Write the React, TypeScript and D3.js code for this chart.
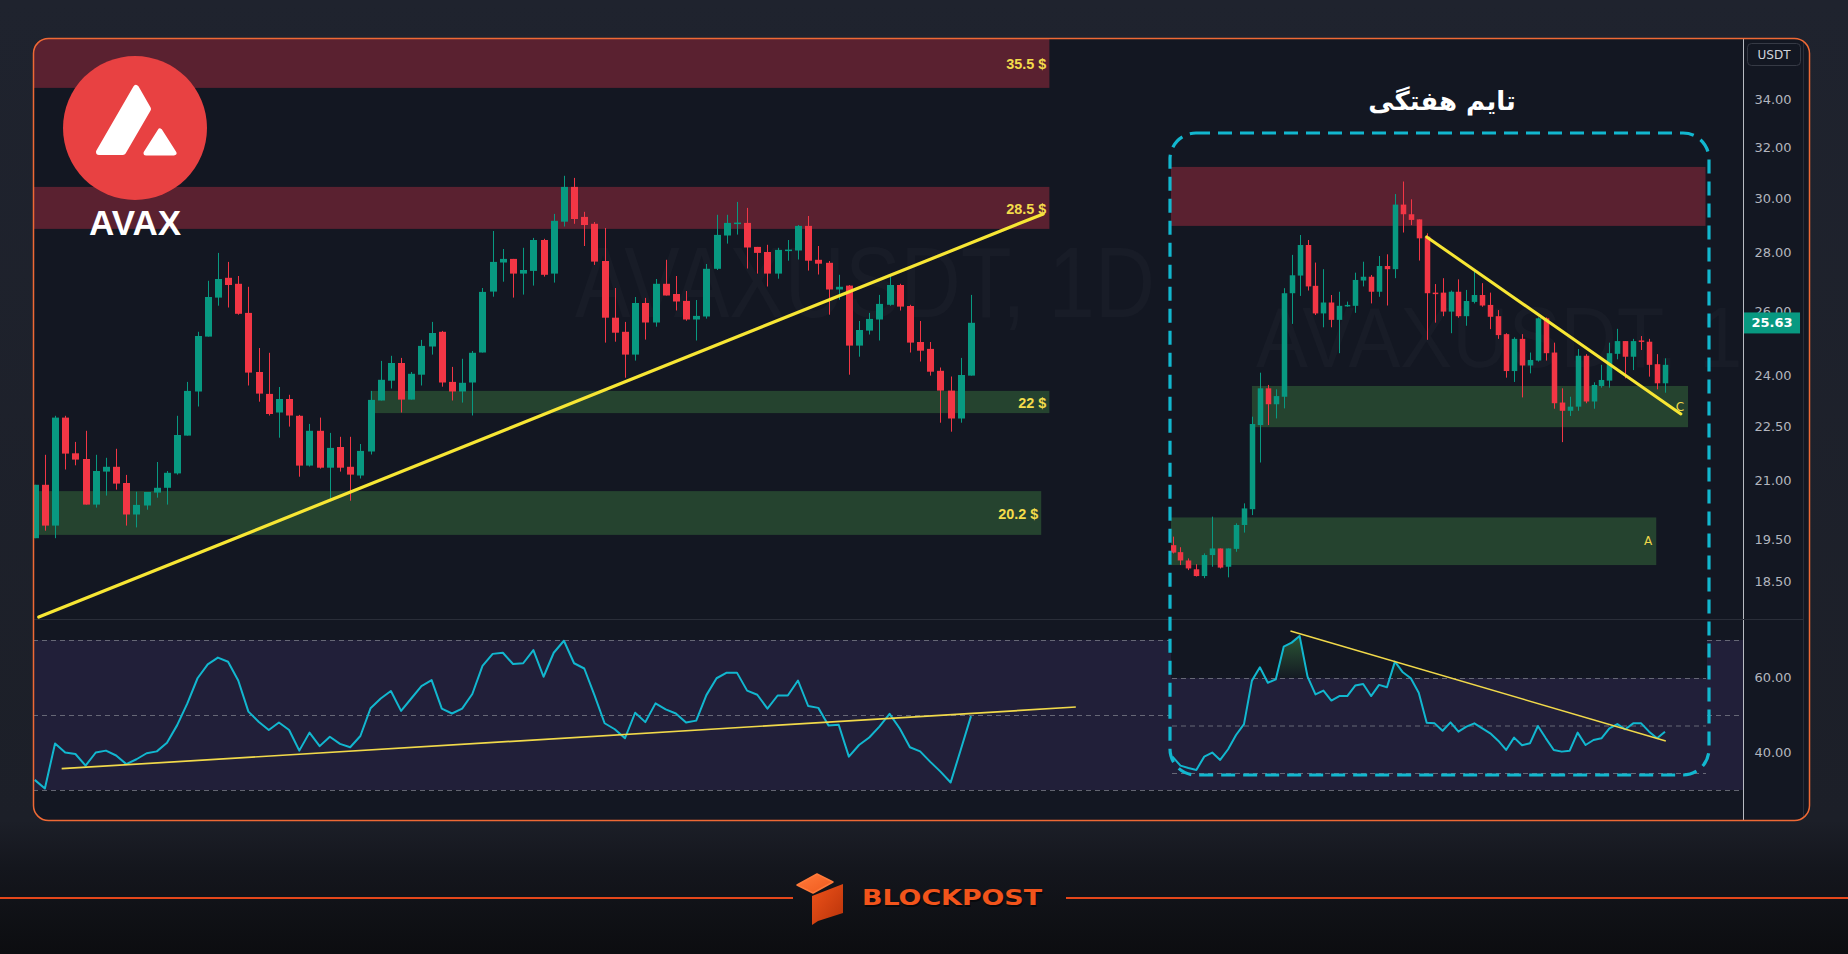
import React from 'react';
import * as d3 from 'd3';

// ---- daily chart (left), AVAX/USDT 1D ----
const dailyOpen = [17.46, 19.24, 17.88, 21.48, 20.29, 20.1, 18.58, 19.68, 19.84, 19.3,
  18.25, 18.55, 18.98, 19.14, 19.62, 20.88, 22.35, 24.18, 25.48, 26.14,
  25.94, 24.97, 23.0, 22.27, 21.65, 22.1, 21.54, 19.88, 21.04, 19.81,
  20.5, 19.84, 19.55, 20.35, 22.05, 22.71, 23.3, 22.08, 22.91, 23.85,
  24.34, 22.67, 22.35, 22.65, 23.65, 25.68, 26.65, 26.77, 26.28, 26.37,
  27.4, 26.28, 28.01, 29.17, 28.17, 27.94, 26.7, 24.81, 24.34, 23.58,
  25.3, 24.65, 25.94, 25.6, 25.37, 24.75, 24.85, 26.44, 27.55, 27.96,
  27.97, 27.17, 27.0, 26.28, 27.05, 27.05, 27.87, 26.74, 26.64, 25.75,
  25.88, 23.88, 24.38, 24.75, 25.24, 25.9, 25.2, 24.0, 23.77, 23.04,
  22.38, 21.45, 22.88];
const dailyHigh = [19.24, 20.24, 21.54, 21.54, 20.67, 21.04, 20.24, 20.14, 20.44, 19.57,
  19.01, 19.0, 20.0, 19.7, 21.54, 22.67, 24.34, 26.04, 26.97, 26.67,
  26.2, 25.84, 23.8, 23.64, 22.5, 22.24, 21.57, 21.27, 21.48, 20.97,
  20.84, 20.84, 20.6, 22.37, 23.37, 23.54, 23.47, 23.0, 24.07, 24.67,
  24.37, 23.17, 23.44, 23.7, 25.8, 27.7, 27.1, 26.77, 27.14, 27.47,
  27.44, 28.27, 29.54, 29.47, 28.34, 28.0, 27.8, 25.8, 24.67, 25.5,
  25.47, 26.1, 26.74, 26.2, 25.7, 25.4, 26.6, 28.24, 28.24, 28.67,
  28.47, 27.17, 27.24, 27.14, 27.4, 27.9, 28.2, 27.2, 26.7, 26.24,
  25.9, 24.7, 24.97, 25.57, 26.18, 25.94, 25.24, 24.7, 24.0, 23.15,
  22.85, 23.47, 25.57];
const dailyLow = [17.46, 17.71, 17.46, 19.75, 19.89, 18.58, 18.48, 18.88, 19.08, 17.88,
  17.82, 18.41, 18.81, 18.58, 19.58, 20.88, 21.85, 24.18, 25.21, 25.15,
  24.91, 22.55, 22.01, 21.55, 20.81, 21.18, 19.51, 19.85, 19.78, 18.71,
  19.68, 18.71, 19.45, 20.25, 22.05, 22.45, 21.65, 22.08, 22.55, 23.58,
  22.51, 22.05, 21.98, 21.55, 23.65, 25.51, 26.01, 25.48, 25.58, 25.88,
  26.18, 25.98, 27.85, 27.94, 27.2, 26.57, 23.98, 24.01, 22.81, 23.38,
  24.08, 24.51, 25.55, 25.05, 24.71, 24.05, 24.78, 26.4, 27.28, 27.58,
  26.45, 26.28, 25.85, 26.11, 26.71, 26.75, 26.38, 26.25, 24.91, 25.41,
  22.91, 23.51, 24.25, 24.05, 25.21, 25.05, 23.65, 23.35, 22.88, 21.31,
  21.01, 21.31, 22.88];
const dailyClose = [19.24, 17.88, 21.48, 20.28, 20.08, 18.58, 19.7, 19.84, 19.28, 18.25,
  18.57, 19.0, 19.14, 19.64, 20.9, 22.37, 24.2, 25.5, 26.1, 25.9,
  24.94, 22.98, 22.28, 21.6, 22.1, 21.55, 19.88, 21.04, 19.81, 20.47,
  19.81, 19.58, 20.37, 22.07, 22.74, 23.3, 22.08, 22.94, 23.87, 24.3,
  22.65, 22.35, 22.64, 23.64, 25.67, 26.67, 26.77, 26.28, 26.4, 27.4,
  26.24, 28.04, 29.17, 28.1, 27.9, 26.68, 24.81, 24.31, 23.58, 25.3,
  24.65, 25.94, 25.55, 25.35, 24.75, 24.87, 26.44, 27.57, 27.97, 27.98,
  27.15, 26.97, 26.28, 27.07, 27.08, 27.87, 26.71, 26.61, 25.75, 25.84,
  23.88, 24.4, 24.77, 25.27, 25.9, 25.18, 23.98, 23.71, 23.01, 22.38,
  21.45, 22.9, 24.64];
const dailyRsi = [32.7, 30.4, 42.4, 40.0, 39.6, 36.5, 40.0, 40.5, 39.2, 36.9,
  38.2, 39.8, 40.3, 42.6, 47.3, 53.1, 59.8, 63.5, 65.3, 64.2,
  59.2, 50.9, 48.2, 46.0, 48.0, 46.0, 40.5, 45.3, 41.7, 44.2,
  42.3, 41.4, 44.4, 51.8, 54.4, 56.4, 51.1, 54.4, 57.7, 59.3,
  51.7, 50.4, 51.7, 55.6, 63.1, 66.3, 66.6, 63.6, 63.8, 67.3,
  60.2, 66.6, 69.8, 63.8, 62.4, 55.3, 47.8, 46.2, 43.8, 50.6,
  48.1, 53.1, 51.5, 50.4, 48.0, 48.5, 55.3, 59.8, 61.3, 61.3,
  56.5, 55.4, 51.7, 55.2, 55.2, 59.2, 52.4, 51.9, 47.2, 47.4,
  38.9, 42.0, 44.0, 46.9, 50.3, 46.4, 41.4, 40.3, 37.5, 34.9,
  32.0, 40.8, 49.7];

// ---- weekly chart (inset), AVAX/USDT 1W ----
const weeklyOpen = [19.36, 19.19, 18.99, 18.78, 18.62, 19.12, 19.28, 18.84, 19.27, 19.86,
  20.26, 22.53, 23.6, 23.13, 23.35, 26.61, 27.21, 28.28, 26.86, 25.94,
  26.3, 25.73, 26.19, 26.19, 27.04, 27.17, 26.66, 27.54, 27.43, 29.76,
  29.4, 29.21, 28.58, 26.63, 26.63, 26.0, 26.66, 25.85, 26.32, 26.55,
  26.22, 25.85, 25.27, 24.12, 25.12, 24.29, 24.44, 25.78, 24.69, 23.18,
  22.94, 23.06, 24.59, 23.21, 23.67, 23.83, 24.65, 25.05, 24.56, 25.07,
  25.03, 24.33, 23.75];
const weeklyHigh = [19.57, 19.31, 19.04, 18.9, 19.16, 20.07, 19.28, 19.28, 19.9, 20.41,
  22.77, 24.07, 23.7, 23.57, 26.78, 27.93, 28.64, 28.46, 27.66, 27.43,
  26.55, 26.66, 26.33, 27.31, 27.69, 27.23, 27.89, 27.95, 30.16, 30.64,
  29.96, 29.21, 28.7, 26.92, 27.12, 26.7, 27.08, 26.72, 27.4, 26.95,
  26.63, 26.05, 25.3, 25.17, 25.27, 24.69, 25.81, 25.81, 25.0, 23.6,
  23.35, 24.8, 24.64, 23.78, 24.31, 25.0, 25.44, 25.05, 25.12, 25.21,
  25.12, 24.64, 24.51];
const weeklyLow = [19.16, 18.88, 18.76, 18.61, 18.57, 18.84, 18.8, 18.59, 19.2, 19.67,
  20.11, 21.49, 22.53, 22.72, 23.01, 25.6, 26.52, 26.7, 25.89, 25.49,
  25.49, 24.67, 26.16, 25.96, 26.84, 26.27, 26.49, 26.2, 27.12, 28.73,
  29.0, 27.73, 25.09, 25.64, 25.85, 25.3, 25.8, 25.54, 26.27, 26.16,
  25.43, 25.12, 23.92, 23.79, 23.33, 24.05, 24.41, 24.44, 23.0, 22.05,
  22.79, 22.94, 23.16, 23.0, 23.62, 23.62, 24.48, 23.9, 24.15, 24.77,
  23.95, 23.57, 23.47];
const weeklyClose = [19.18, 18.99, 18.8, 18.62, 19.12, 19.28, 18.82, 19.28, 19.86, 20.28,
  22.56, 23.6, 23.13, 23.37, 26.61, 27.22, 28.28, 26.84, 25.94, 26.3,
  25.73, 26.19, 26.22, 27.06, 27.17, 26.66, 27.54, 27.43, 29.76, 29.4,
  29.19, 28.52, 26.61, 26.59, 26.0, 26.66, 25.85, 26.35, 26.55, 26.2,
  25.83, 25.24, 24.12, 25.12, 24.29, 24.46, 25.78, 24.67, 23.16, 22.94,
  23.06, 24.59, 23.21, 23.7, 23.85, 24.67, 25.05, 24.56, 25.05, 25.03,
  24.31, 23.75, 24.31];
const weeklyRsi = [36.9, 33.1, 32.1, 31.3, 36.9, 38.6, 35.5, 40.0, 46.0, 50.6,
  68.9, 74.5, 68.0, 69.4, 83.2, 84.9, 87.7, 70.6, 63.1, 64.7,
  60.5, 62.4, 62.4, 66.8, 67.5, 62.4, 67.1, 66.1, 76.9, 72.4,
  69.9, 63.8, 51.2, 50.9, 47.8, 51.3, 47.4, 49.5, 50.9, 48.8,
  46.7, 43.6, 39.7, 44.9, 41.7, 42.5, 49.8, 44.6, 39.7, 39.0,
  39.4, 47.0, 41.8, 43.9, 44.6, 48.8, 50.6, 48.4, 50.9, 50.9,
  47.4, 44.6, 47.4];

// zones: price bounds + bar-index extent
const dailyZones = [
  { lo: 32.47, hi: 34.13, from: -0.3, to: 99.7, kind: 'supply', label: '35.5 $' },
  { lo: 27.77, hi: 29.17, from: -0.3, to: 99.7, kind: 'supply', label: '28.5 $' },
  { lo: 21.63, hi: 22.37, from: 33, to: 99.7, kind: 'demand', label: '22 $' },
  { lo: 17.57, hi: 19.03, from: -0.3, to: 98.9, kind: 'demand', label: '20.2 $' },
];
const weeklyZones = [
  { lo: 28.97, hi: 31.21, from: -0.3, to: 67.1, kind: 'supply', label: '' },
  { lo: 22.47, hi: 23.67, from: 10, to: 64.9, kind: 'demand', label: 'C' },
  { lo: 18.88, hi: 20.05, from: -0.3, to: 60.9, kind: 'demand', label: 'A' },
];

// trend lines [barIndex, value]
const dailyTrend = [[0.4, 14.83], [99.1, 28.27]];
const weeklyTrend = [[32, 28.57], [64, 22.85]];
const dailyRsiTrend = [[2.65, 35.68], [102.3, 52.13]];
const weeklyRsiTrend = [[14.85, 89.79], [62.1, 43.47]];

const priceTicks = [34, 32, 30, 28, 26, 24, 22.5, 21, 19.5, 18.5];
const rsiTicks = [60, 40];
const rsiLevels = [70, 50, 30];
const lastPrice = 25.63;

const GREEN = '#089981';
const RED = '#f23645';
const BG = '#131722';
const SUPPLY = '#5a2130';
const DEMAND = '#25432f';
const YELLOW = '#f7e634';
const CYAN = '#12b7cf';
const BAND = '#211f39';

function Candles({ open, high, low, close, x, y, bw }) {
  return (
    <g>
      {open.map((o, i) => {
        const c = close[i];
        const col = c >= o ? GREEN : RED;
        const cx = Math.round(x(i)) + 0.5;
        const top = y(Math.max(o, c));
        const bot = y(Math.min(o, c));
        return (
          <g key={i}>
            <line x1={cx} x2={cx} y1={y(high[i])} y2={y(low[i])} stroke={col} strokeWidth={1} />
            <rect x={cx - bw / 2} y={top} width={bw} height={Math.max(1.5, bot - top)} fill={col} />
          </g>
        );
      })}
    </g>
  );
}

export default function App() {
  const W = 1848;
  const H = 954;
  // scales
  const xD = d3.scaleLinear().domain([0, dailyOpen.length - 1]).range([34.7, 971]);
  const yD = d3.scaleLinear().domain([28.5, 22]).range([207, 402]);
  const xW = d3.scaleLinear().domain([0, weeklyOpen.length - 1]).range([1172.5, 1665]);
  const yW = d3.scaleLog().domain([24, 34]).range([375, 99.1]);
  const yRD = d3.scaleLinear().domain([70, 30]).range([640, 790]);
  const yRW = d3.scaleLinear().domain([70, 30]).range([678, 773]);

  const rsiLineD = d3.line<number>().x((d, i) => xD(i)).y((d) => yRD(d));
  const rsiLineW = d3.line<number>().x((d, i) => xW(i)).y((d) => yRW(d));
  const rsiAreaW = d3.area<number>().x((d, i) => xW(i)).y0(yRW(70)).y1((d) => yRW(d));

  const frame = { x: 33, y: 38, w: 1776, h: 782 };
  const axisX = 1743;
  const paneDiv = 619;
  const inset = { x: 1170, y: 133, w: 539, h: 642 };

  const wm = { fill: '#ffffff', fillOpacity: 0.022, fontFamily: 'Liberation Sans, Arial, sans-serif' };

  return (
    <>
      <style>{'body{margin:0;overflow:hidden;background:#1e222c}'}</style>
      <svg width={W} height={H} style={{ display: 'block' }}>
        <defs>
          <linearGradient id="page" x1="0" y1="0" x2="0" y2="1">
            <stop offset="0" stopColor="#1f232e" />
            <stop offset="0.86" stopColor="#1c1f28" />
            <stop offset="0.91" stopColor="#14161d" />
            <stop offset="1" stopColor="#0c0d10" />
          </linearGradient>
          <linearGradient id="ob" gradientUnits="userSpaceOnUse" x1="0" y1="632" x2="0" y2="678">
            <stop offset="0" stopColor="#4caf50" stopOpacity="0.45" />
            <stop offset="1" stopColor="#4caf50" stopOpacity="0.02" />
          </linearGradient>
          <linearGradient id="cubeTop" x1="0" y1="0" x2="1" y2="1">
            <stop offset="0" stopColor="#ff7a3a" />
            <stop offset="1" stopColor="#ef5a1e" />
          </linearGradient>
          <linearGradient id="cubeFace" x1="0" y1="0" x2="1" y2="1">
            <stop offset="0" stopColor="#f0531a" />
            <stop offset="1" stopColor="#b8330a" />
          </linearGradient>
          <clipPath id="leftClip">
            <rect x={frame.x} y={frame.y} width={1160 - frame.x} height={paneDiv - frame.y} />
          </clipPath>
          <clipPath id="insetClip">
            <rect x={1171} y={frame.y} width={axisX - 1171} height={paneDiv - frame.y} />
          </clipPath>
          <clipPath id="obClip">
            <rect x={1171} y={600} width={540} height={yRW(70) - 600} />
          </clipPath>
          <clipPath id="frameClip">
            <rect x={frame.x} y={frame.y} width={frame.w} height={frame.h} rx={15} />
          </clipPath>
        </defs>

        <rect width={W} height={H} fill="url(#page)" />

        {/* frame background */}
        <rect x={frame.x} y={frame.y} width={frame.w} height={frame.h} rx={15} fill={BG} />

        <g clipPath="url(#frameClip)">
          {/* ---------- daily price pane ---------- */}
          <g clipPath="url(#leftClip)">
            {dailyZones.map((z, i) => (
              <rect key={i} x={xD(z.from)} y={yD(z.hi)} width={xD(z.to) - xD(z.from)}
                height={yD(z.lo) - yD(z.hi)} fill={z.kind === 'supply' ? SUPPLY : DEMAND} />
            ))}
            <text x={575} y={317} fontSize={100} textLength={580} lengthAdjust="spacingAndGlyphs" {...wm}>AVAXUSDT, 1D</text>
            <text x={693} y={398} fontSize={44} textLength={347} lengthAdjust="spacingAndGlyphs" {...wm}>AVAX / TetherUS</text>
            <Candles open={dailyOpen} high={dailyHigh} low={dailyLow} close={dailyClose} x={xD} y={yD} bw={7} />
            <line x1={xD(dailyTrend[0][0])} y1={yD(dailyTrend[0][1])} x2={xD(dailyTrend[1][0])} y2={yD(dailyTrend[1][1])}
              stroke={YELLOW} strokeWidth={3.2} strokeLinecap="round" />
            {dailyZones.map((z, i) => (
              <text key={i} transform={`translate(${xD(z.to) - 3},${(yD(z.hi) + yD(z.lo)) / 2}) scale(0.93,1)`}
                textAnchor="end" dominantBaseline="central" fontSize={15.5} fontWeight="bold"
                fontFamily="Liberation Sans, Arial, sans-serif" fill="#f3dc4b">{z.label}</text>
            ))}
          </g>

          {/* ---------- weekly inset price pane ---------- */}
          <g clipPath="url(#insetClip)">
            {weeklyZones.map((z, i) => (
              <rect key={i} x={xW(z.from)} y={yW(z.hi)} width={xW(z.to) - xW(z.from)}
                height={yW(z.lo) - yW(z.hi)} fill={z.kind === 'supply' ? SUPPLY : DEMAND} />
            ))}
            <text x={1256} y={367} fontSize={86} textLength={560} lengthAdjust="spacingAndGlyphs" {...wm}>AVAXUSDT, 1W</text>
            <text x={1363} y={437} fontSize={40} textLength={286} lengthAdjust="spacingAndGlyphs" {...wm}>AVAX / TetherUS</text>
            <Candles open={weeklyOpen} high={weeklyHigh} low={weeklyLow} close={weeklyClose} x={xW} y={yW} bw={5.5} />
            <line x1={xW(weeklyTrend[0][0])} y1={yW(weeklyTrend[0][1])} x2={xW(weeklyTrend[1][0])} y2={yW(weeklyTrend[1][1])}
              stroke={YELLOW} strokeWidth={3} strokeLinecap="round" />
            {weeklyZones.filter((z) => z.label).map((z, i) => (
              <text key={i} x={xW(z.to) - 4} y={(yW(z.hi) + yW(z.lo)) / 2} textAnchor="end" dominantBaseline="central"
                fontSize={12} fontFamily="DejaVu Sans, sans-serif" fill="#eed64a">{z.label}</text>
            ))}
          </g>

          {/* ---------- RSI pane ---------- */}
          <rect x={frame.x} y={yRD(70)} width={axisX - frame.x} height={yRD(30) - yRD(70)} fill={BAND} />
          {rsiLevels.map((v) => (
            <line key={v} x1={frame.x} x2={axisX} y1={yRD(v) + 0.5} y2={yRD(v) + 0.5}
              stroke="#7d808b" strokeOpacity={0.75} strokeDasharray="5 4" />
          ))}
          <path d={rsiLineD(dailyRsi)} fill="none" stroke={CYAN} strokeWidth={2} strokeLinejoin="round" />
          <line x1={xD(dailyRsiTrend[0][0])} y1={yRD(dailyRsiTrend[0][1])} x2={xD(dailyRsiTrend[1][0])} y2={yRD(dailyRsiTrend[1][1])}
            stroke="#f1d94a" strokeWidth={1.7} />

          {/* inset RSI */}
          <rect x={1171} y={paneDiv} width={1707 - 1171} height={yRW(70) - paneDiv} fill={BG} />
          <rect x={1171} y={yRW(70)} width={1707 - 1171} height={786 - yRW(70)} fill={BAND} />
          {rsiLevels.map((v) => (
            <line key={v} x1={1172} x2={1706} y1={yRW(v) + 0.5} y2={yRW(v) + 0.5}
              stroke="#7d808b" strokeOpacity={0.75} strokeDasharray="5 4" />
          ))}
          <path d={rsiAreaW(weeklyRsi)} fill="url(#ob)" clipPath="url(#obClip)" />
          <path d={rsiLineW(weeklyRsi)} fill="none" stroke={CYAN} strokeWidth={2} strokeLinejoin="round" />
          <line x1={xW(weeklyRsiTrend[0][0])} y1={yRW(weeklyRsiTrend[0][1])} x2={xW(weeklyRsiTrend[1][0])} y2={yRW(weeklyRsiTrend[1][1])}
            stroke="#f1d94a" strokeWidth={1.5} />

          {/* pane divider */}
          <line x1={frame.x} x2={frame.x + frame.w} y1={paneDiv + 0.5} y2={paneDiv + 0.5} stroke="#2a2e39" />

          {/* dashed inset box */}
          <rect x={inset.x} y={inset.y} width={inset.w} height={inset.h} rx={26} fill="none"
            stroke={CYAN} strokeWidth={3.2} strokeDasharray="14 8" />
          <text x={1442} y={110} textAnchor="middle" fontSize={26} fontWeight="bold"
            fontFamily="DejaVu Sans, sans-serif" fill="#ffffff">تایم هفتگی</text>

          {/* ---------- price axis ---------- */}
          <rect x={axisX} y={frame.y} width={frame.x + frame.w - axisX} height={frame.h} fill={BG} />
          <line x1={1803.5} x2={1803.5} y1={frame.y} y2={frame.y + frame.h} stroke="#2a2e39" />
          <line x1={axisX + 0.5} x2={axisX + 0.5} y1={frame.y} y2={frame.y + frame.h} stroke="#d6d8de" strokeOpacity={0.85} />
          <line x1={axisX} x2={1804} y1={paneDiv + 0.5} y2={paneDiv + 0.5} stroke="#2a2e39" />
          {priceTicks.map((t) => (
            <text key={t} x={1773} y={yW(t)} textAnchor="middle" dominantBaseline="central"
              fontSize={13} fontFamily="DejaVu Sans, sans-serif" fill="#b2b5be">{t.toFixed(2)}</text>
          ))}
          {rsiTicks.map((t) => (
            <text key={t} x={1773} y={yRD(t)} textAnchor="middle" dominantBaseline="central"
              fontSize={13} fontFamily="DejaVu Sans, sans-serif" fill="#b2b5be">{t.toFixed(2)}</text>
          ))}
          <rect x={axisX + 1} y={yW(lastPrice) - 10.5} width={56} height={21} fill={GREEN} />
          <text x={1772} y={yW(lastPrice)} textAnchor="middle" dominantBaseline="central" fontSize={13}
            fontWeight="bold" fontFamily="DejaVu Sans, sans-serif" fill="#ffffff">{lastPrice.toFixed(2)}</text>
          <rect x={1747.5} y={43.5} width={53} height={22} rx={4} fill={BG} stroke="#363a45" />
          <text x={1774} y={55} textAnchor="middle" dominantBaseline="central" fontSize={12}
            fontFamily="DejaVu Sans, sans-serif" fill="#d1d4dc">USDT</text>
        </g>

        {/* frame border */}
        <rect x={frame.x + 0.5} y={frame.y + 0.5} width={frame.w} height={frame.h} rx={15}
          fill="none" stroke="#ee6935" strokeWidth={1.5} />

        {/* AVAX logo */}
        <circle cx={135} cy={128} r={72} fill="#e84142" />
        <path d="M136,88 L148,109 L123,152 L99,152 Z" fill="#fff" stroke="#fff" strokeWidth={6} strokeLinejoin="round" />
        <path d="M160,131 L174,153 L146,153 Z" fill="#fff" stroke="#fff" strokeWidth={5} strokeLinejoin="round" />
        <text x={135} y={235} textAnchor="middle" fontSize={35} fontWeight="bold"
          fontFamily="Liberation Sans, Arial, sans-serif" fill="#ffffff">AVAX</text>

        {/* footer brand */}
        <line x1={0} x2={793} y1={898} y2={898} stroke="#e5471b" strokeWidth={2} />
        <line x1={1066} x2={W} y1={898} y2={898} stroke="#e5471b" strokeWidth={2} />
        <path d="M797,885 L817,874 L833,882 L813,893 Z" fill="url(#cubeTop)" stroke="#ff7a3a" strokeWidth={1.5} strokeLinejoin="round" />
        <path d="M812,896 L843,884 L843,913 L818,921 L812,925 Z" fill="url(#cubeFace)" />
        <text x={863} y={907} fontSize={22} fontWeight="bold" textLength={180} lengthAdjust="spacingAndGlyphs"
          fontFamily="DejaVu Sans, sans-serif" fill="#000000" fillOpacity={0.5}>BLOCKPOST</text>
        <text x={862} y={905} fontSize={22} fontWeight="bold" textLength={180} lengthAdjust="spacingAndGlyphs"
          fontFamily="DejaVu Sans, sans-serif" fill="#f2541b">BLOCKPOST</text>
      </svg>
    </>
  );
}
